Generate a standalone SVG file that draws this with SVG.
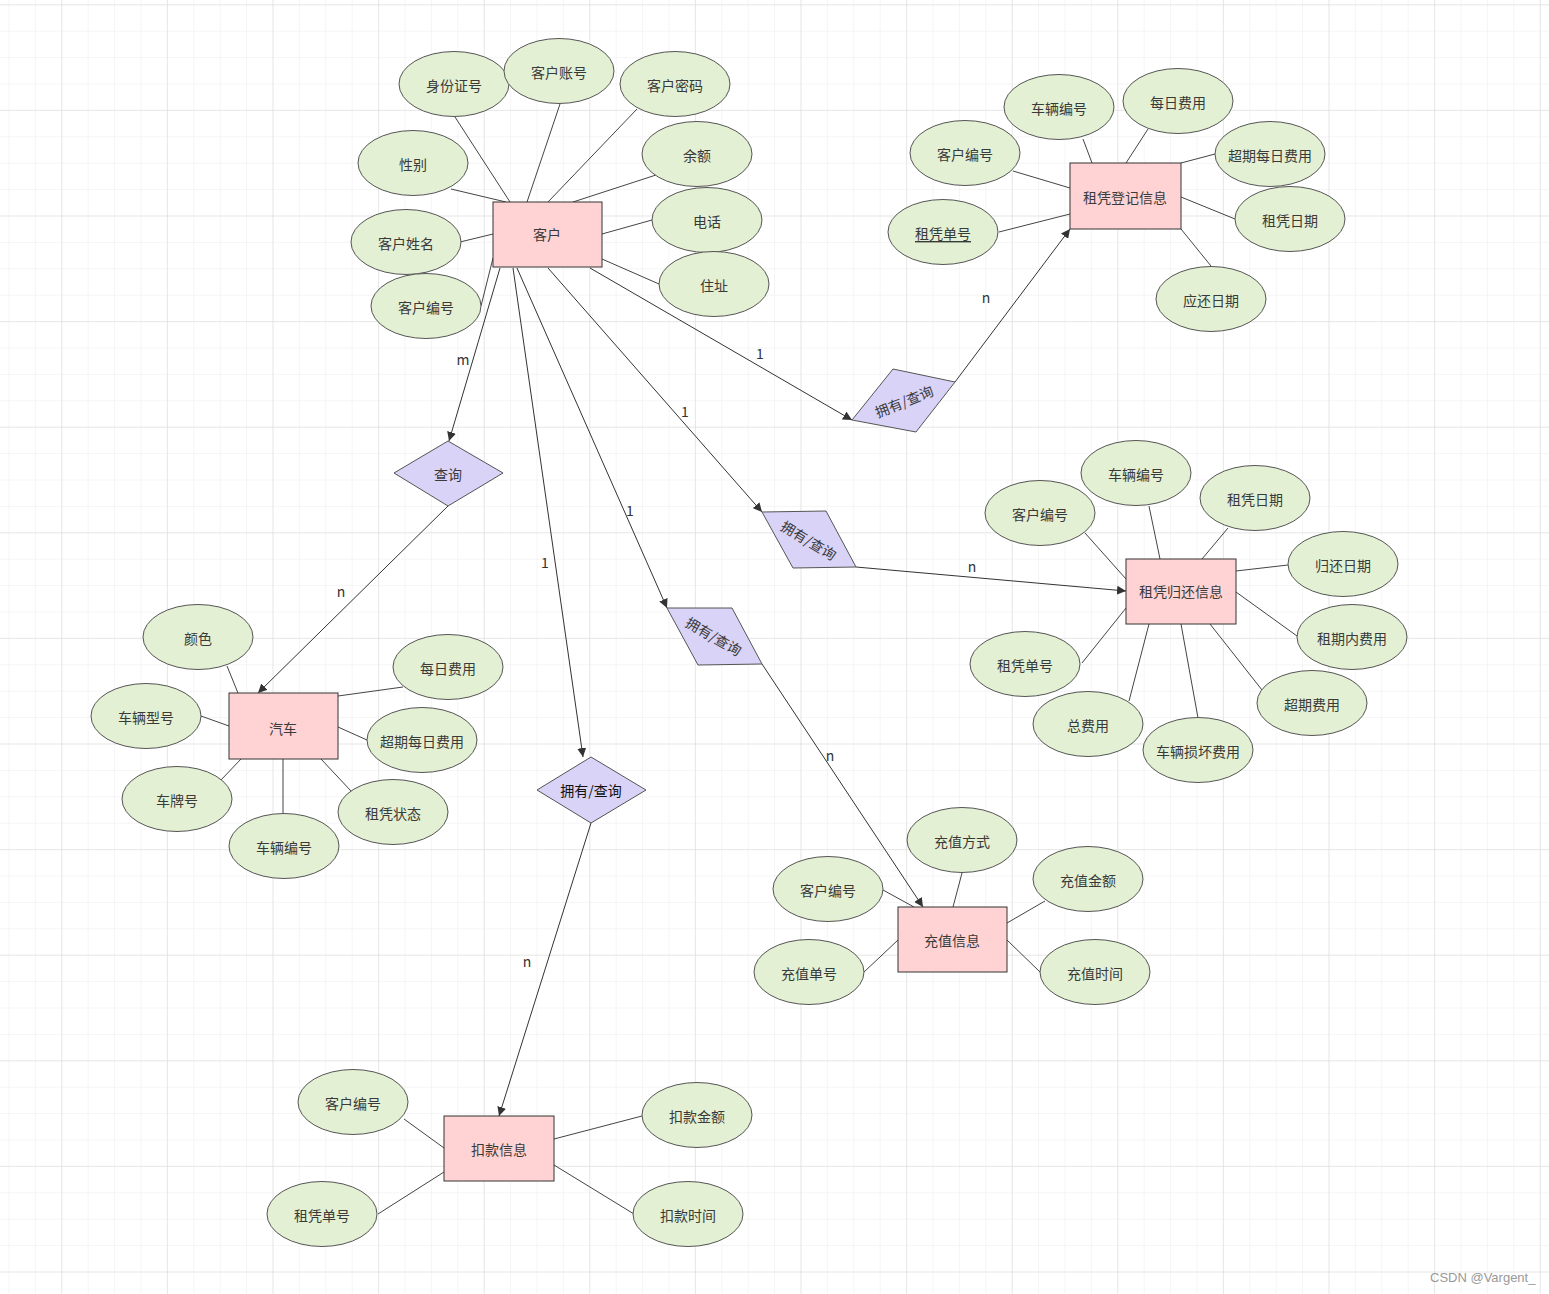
<svg xmlns="http://www.w3.org/2000/svg" width="1549" height="1294" viewBox="0 0 1549 1294">
<defs>
<pattern id="minor" patternUnits="userSpaceOnUse" x="8.5" y="4.3" width="26.4" height="26.4">
<path d="M0 0 H26.4 M0 0 V26.4" fill="none" stroke="#ececec" stroke-width="1"/>
</pattern>
<pattern id="major" patternUnits="userSpaceOnUse" x="61.3" y="4.3" width="105.6" height="105.6">
<path d="M0 0 H105.6 M0 0 V105.6" fill="none" stroke="#d9d9d9" stroke-width="1"/>
</pattern>
<marker id="arr" viewBox="0 0 10 10" refX="10" refY="5" markerWidth="9" markerHeight="9" markerUnits="userSpaceOnUse" orient="auto">
<path d="M0 0 L10 5 L0 10 Z" fill="#333"/>
</marker>
</defs>
<style>
.e{fill:#e3f0d3;stroke:#555;stroke-width:1}
.r{fill:#ffd3d3;stroke:#333;stroke-width:1}
.d{fill:#d8d3f7;stroke:#555;stroke-width:1}
text{font-family:"Noto Sans CJK SC","Noto Sans",sans-serif;font-size:14px;fill:#3a3a3a;text-anchor:middle;dominant-baseline:central}
.l{stroke:#444;stroke-width:1;fill:none}
.a{stroke:#333;stroke-width:1;fill:none;marker-end:url(#arr)}
.lab{font-size:14px;fill:#333}
.wm{font-family:"Liberation Sans",sans-serif;font-size:13px;fill:#999;text-anchor:start}
</style>
<rect width="1549" height="1294" fill="#fff"/>
<rect width="1549" height="1294" fill="url(#minor)"/>
<rect width="1549" height="1294" fill="url(#major)"/>

<g id="attr-lines">
<line class="l" x1="455" y1="117" x2="510" y2="202"/>
<line class="l" x1="560" y1="104" x2="527" y2="202"/>
<line class="l" x1="637" y1="109" x2="548" y2="202"/>
<line class="l" x1="451" y1="189" x2="506" y2="202"/>
<line class="l" x1="656" y1="175" x2="573" y2="202"/>
<line class="l" x1="460" y1="242" x2="493" y2="234"/>
<line class="l" x1="652" y1="220" x2="602" y2="234"/>
<line class="l" x1="493" y1="258" x2="481" y2="306"/>
<line class="l" x1="659" y1="284" x2="602" y2="259"/>

<line class="l" x1="1083" y1="139" x2="1092" y2="163"/>
<line class="l" x1="1148" y1="129" x2="1126" y2="163"/>
<line class="l" x1="1013" y1="171" x2="1070" y2="188"/>
<line class="l" x1="1215" y1="154" x2="1181" y2="163"/>
<line class="l" x1="999" y1="232" x2="1070" y2="214"/>
<line class="l" x1="1235" y1="219" x2="1181" y2="197"/>
<line class="l" x1="1211" y1="266" x2="1181" y2="229"/>

<line class="l" x1="1149" y1="506" x2="1160" y2="559"/>
<line class="l" x1="1228" y1="528" x2="1202" y2="559"/>
<line class="l" x1="1085" y1="533" x2="1126" y2="579"/>
<line class="l" x1="1288" y1="565" x2="1236" y2="571"/>
<line class="l" x1="1297" y1="636" x2="1236" y2="592"/>
<line class="l" x1="1082" y1="663" x2="1126" y2="608"/>
<line class="l" x1="1262" y1="690" x2="1210" y2="624"/>
<line class="l" x1="1129" y1="701" x2="1149" y2="624"/>
<line class="l" x1="1198" y1="718" x2="1181" y2="624"/>

<line class="l" x1="227" y1="666" x2="238" y2="693"/>
<line class="l" x1="403" y1="687" x2="338" y2="696"/>
<line class="l" x1="201" y1="716" x2="229" y2="726"/>
<line class="l" x1="367" y1="740" x2="338" y2="727"/>
<line class="l" x1="221" y1="780" x2="241" y2="759"/>
<line class="l" x1="351" y1="791" x2="321" y2="759"/>
<line class="l" x1="283" y1="813" x2="283" y2="759"/>

<line class="l" x1="962" y1="873" x2="953" y2="907"/>
<line class="l" x1="1045" y1="901" x2="1007" y2="923"/>
<line class="l" x1="883" y1="890" x2="914" y2="907"/>
<line class="l" x1="864" y1="972" x2="898" y2="940"/>
<line class="l" x1="1040" y1="972" x2="1007" y2="940"/>

<line class="l" x1="404" y1="1119" x2="444" y2="1148"/>
<line class="l" x1="642" y1="1116" x2="554" y2="1139"/>
<line class="l" x1="378" y1="1214" x2="444" y2="1172"/>
<line class="l" x1="634" y1="1214" x2="554" y2="1165"/>
</g>

<g id="connectors">
<line class="a" x1="590" y1="268" x2="852" y2="420"/>
<line class="a" x1="955" y1="382" x2="1070" y2="229"/>
<line class="a" x1="548" y1="268" x2="762" y2="512"/>
<line class="a" x1="856" y1="567" x2="1126" y2="591"/>
<line class="a" x1="517" y1="268" x2="667" y2="608"/>
<line class="a" x1="762" y1="664" x2="923" y2="907"/>
<line class="a" x1="513" y1="268" x2="583" y2="757"/>
<line class="a" x1="591" y1="823" x2="499" y2="1116"/>
<line class="a" x1="500" y1="268" x2="449" y2="441"/>
<line class="a" x1="448" y1="506" x2="258" y2="693"/>
<text class="lab" x="760" y="353">1</text>
<text class="lab" x="986" y="297">n</text>
<text class="lab" x="685" y="411">1</text>
<text class="lab" x="972" y="566">n</text>
<text class="lab" x="630" y="510">1</text>
<text class="lab" x="830" y="755">n</text>
<text class="lab" x="545" y="562">1</text>
<text class="lab" x="527" y="961">n</text>
<text class="lab" x="463" y="359">m</text>
<text class="lab" x="341" y="591">n</text>
</g>

<g id="n-kehu"><rect class="r" x="493" y="202" width="109" height="65"/><text x="547" y="234">客户</text></g>
<g id="n-dengji"><rect class="r" x="1070" y="163" width="111" height="66"/><text x="1125" y="197">租凭登记信息</text></g>
<g id="n-guihuan"><rect class="r" x="1126" y="559" width="110" height="65"/><text x="1181" y="591">租凭归还信息</text></g>
<g id="n-qiche"><rect class="r" x="229" y="693" width="109" height="66"/><text x="283" y="728">汽车</text></g>
<g id="n-chongzhi"><rect class="r" x="898" y="907" width="109" height="65"/><text x="952" y="940">充值信息</text></g>
<g id="n-koukuan"><rect class="r" x="444" y="1116" width="110" height="65"/><text x="499" y="1149">扣款信息</text></g>

<g id="r-dengji"><polygon class="d" points="893,369 955,382 916,432 852,420"/><text x="904" y="401" transform="rotate(-22 904 401)">拥有/查询</text></g>
<g id="r-guihuan"><polygon class="d" points="762,512 826,511 856,567 793,568"/><text x="809" y="540" transform="rotate(31 809 540)">拥有/查询</text></g>
<g id="r-chongzhi"><polygon class="d" points="667,608 732,608 762,664 698,665"/><text x="714" y="636" transform="rotate(30 714 636)">拥有/查询</text></g>
<g id="r-chaxun"><polygon class="d" points="448,441 503,473 448,506 394,473"/><text x="448" y="474">查询</text></g>
<g id="r-koukuan"><polygon class="d" points="591,757 646,790 591,823 537,790"/><text x="591" y="790" style="fill:#111">拥有/查询</text></g>

<g id="a-sfz"><ellipse class="e" cx="454" cy="84" rx="55" ry="32.5"/><text x="454" y="85">身份证号</text></g>
<g id="a-zh"><ellipse class="e" cx="559" cy="71" rx="55" ry="32.5"/><text x="559" y="72">客户账号</text></g>
<g id="a-mm"><ellipse class="e" cx="675" cy="84" rx="55" ry="32.5"/><text x="675" y="85">客户密码</text></g>
<g id="a-xb"><ellipse class="e" cx="413" cy="163" rx="55" ry="32.5"/><text x="413" y="164">性别</text></g>
<g id="a-ye"><ellipse class="e" cx="697" cy="154" rx="55" ry="32.5"/><text x="697" y="155">余额</text></g>
<g id="a-xm"><ellipse class="e" cx="406" cy="242" rx="55" ry="32.5"/><text x="406" y="243">客户姓名</text></g>
<g id="a-dh"><ellipse class="e" cx="707" cy="220" rx="55" ry="32.5"/><text x="707" y="221">电话</text></g>
<g id="a-khbh"><ellipse class="e" cx="426" cy="306" rx="55" ry="32.5"/><text x="426" y="307">客户编号</text></g>
<g id="a-zz"><ellipse class="e" cx="714" cy="284" rx="55" ry="32.5"/><text x="714" y="285">住址</text></g>

<g id="b-clbh"><ellipse class="e" cx="1059" cy="107" rx="55" ry="32.5"/><text x="1059" y="108">车辆编号</text></g>
<g id="b-mrfy"><ellipse class="e" cx="1178" cy="101" rx="55" ry="32.5"/><text x="1178" y="102">每日费用</text></g>
<g id="b-khbh"><ellipse class="e" cx="965" cy="153" rx="55" ry="32.5"/><text x="965" y="154">客户编号</text></g>
<g id="b-cq"><ellipse class="e" cx="1270" cy="154" rx="55" ry="32.5"/><text x="1270" y="155">超期每日费用</text></g>
<g id="b-zpdh"><ellipse class="e" cx="943" cy="232" rx="55" ry="32.5"/><text x="943" y="233" style="text-decoration:underline">租凭单号</text></g>
<g id="b-zprq"><ellipse class="e" cx="1290" cy="219" rx="55" ry="32.5"/><text x="1290" y="220">租凭日期</text></g>
<g id="b-yhrq"><ellipse class="e" cx="1211" cy="299" rx="55" ry="32.5"/><text x="1211" y="300">应还日期</text></g>

<g id="c-clbh"><ellipse class="e" cx="1136" cy="473" rx="55" ry="32.5"/><text x="1136" y="474">车辆编号</text></g>
<g id="c-zprq"><ellipse class="e" cx="1255" cy="498" rx="55" ry="32.5"/><text x="1255" y="499">租凭日期</text></g>
<g id="c-khbh"><ellipse class="e" cx="1040" cy="513" rx="55" ry="32.5"/><text x="1040" y="514">客户编号</text></g>
<g id="c-ghrq"><ellipse class="e" cx="1343" cy="564" rx="55" ry="32.5"/><text x="1343" y="565">归还日期</text></g>
<g id="c-zqn"><ellipse class="e" cx="1352" cy="637" rx="55" ry="32.5"/><text x="1352" y="638">租期内费用</text></g>
<g id="c-zpdh"><ellipse class="e" cx="1025" cy="664" rx="55" ry="32.5"/><text x="1025" y="665">租凭单号</text></g>
<g id="c-cqfy"><ellipse class="e" cx="1312" cy="703" rx="55" ry="32.5"/><text x="1312" y="704">超期费用</text></g>
<g id="c-zfy"><ellipse class="e" cx="1088" cy="724" rx="55" ry="32.5"/><text x="1088" y="725">总费用</text></g>
<g id="c-shfy"><ellipse class="e" cx="1198" cy="750" rx="55" ry="32.5"/><text x="1198" y="751">车辆损坏费用</text></g>

<g id="d-ys"><ellipse class="e" cx="198" cy="637" rx="55" ry="32.5"/><text x="198" y="638">颜色</text></g>
<g id="d-mrfy"><ellipse class="e" cx="448" cy="667" rx="55" ry="32.5"/><text x="448" y="668">每日费用</text></g>
<g id="d-clxh"><ellipse class="e" cx="146" cy="716" rx="55" ry="32.5"/><text x="146" y="717">车辆型号</text></g>
<g id="d-cq"><ellipse class="e" cx="422" cy="740" rx="55" ry="32.5"/><text x="422" y="741">超期每日费用</text></g>
<g id="d-cph"><ellipse class="e" cx="177" cy="799" rx="55" ry="32.5"/><text x="177" y="800">车牌号</text></g>
<g id="d-zpzt"><ellipse class="e" cx="393" cy="812" rx="55" ry="32.5"/><text x="393" y="813">租凭状态</text></g>
<g id="d-clbh"><ellipse class="e" cx="284" cy="846" rx="55" ry="32.5"/><text x="284" y="847">车辆编号</text></g>

<g id="e-czfs"><ellipse class="e" cx="962" cy="840" rx="55" ry="32.5"/><text x="962" y="841">充值方式</text></g>
<g id="e-czje"><ellipse class="e" cx="1088" cy="879" rx="55" ry="32.5"/><text x="1088" y="880">充值金额</text></g>
<g id="e-khbh"><ellipse class="e" cx="828" cy="889" rx="55" ry="32.5"/><text x="828" y="890">客户编号</text></g>
<g id="e-czdh"><ellipse class="e" cx="809" cy="972" rx="55" ry="32.5"/><text x="809" y="973">充值单号</text></g>
<g id="e-czsj"><ellipse class="e" cx="1095" cy="972" rx="55" ry="32.5"/><text x="1095" y="973">充值时间</text></g>

<g id="f-khbh"><ellipse class="e" cx="353" cy="1102" rx="55" ry="32.5"/><text x="353" y="1103">客户编号</text></g>
<g id="f-kkje"><ellipse class="e" cx="697" cy="1115" rx="55" ry="32.5"/><text x="697" y="1116">扣款金额</text></g>
<g id="f-zpdh"><ellipse class="e" cx="322" cy="1214" rx="55" ry="32.5"/><text x="322" y="1215">租凭单号</text></g>
<g id="f-kksj"><ellipse class="e" cx="688" cy="1214" rx="55" ry="32.5"/><text x="688" y="1215">扣款时间</text></g>

<text class="wm" x="1430" y="1277">CSDN @Vargent_</text>
</svg>
